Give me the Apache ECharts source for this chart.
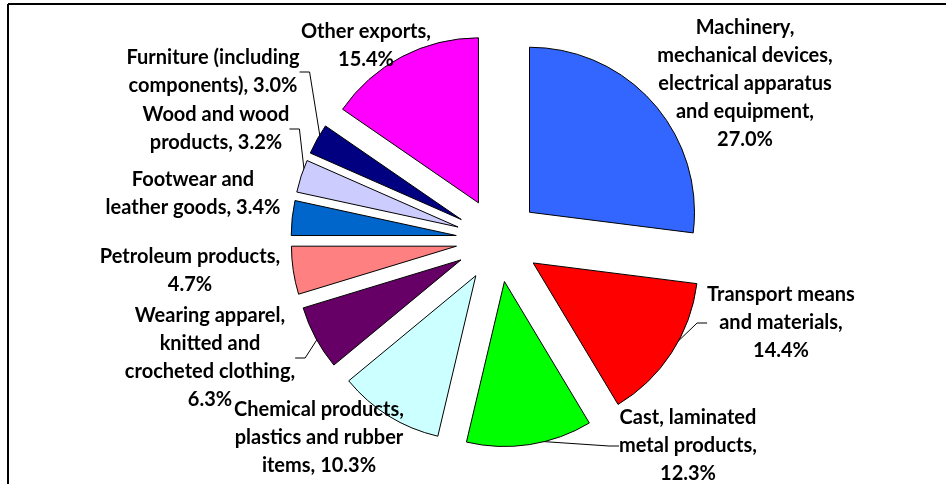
<!DOCTYPE html>
<html><head><meta charset="utf-8">
<script src="https://cdn.jsdelivr.net/npm/echarts@6/dist/echarts.min.js"></script>
<style>html,body{margin:0;padding:0;background:#fff}#c{width:946px;height:484px}</style>
</head><body><div id="c"></div>
<script>
// ---- data ----
const categories = [
  'Machinery,\nmechanical devices,\nelectrical apparatus\nand equipment',
  'Transport means\nand materials',
  'Cast, laminated\nmetal products',
  'Chemical products,\nplastics and rubber\nitems',
  'Wearing apparel,\nknitted and\ncrocheted clothing',
  'Petroleum products',
  'Footwear and\nleather goods',
  'Wood and wood\nproducts',
  'Furniture (including\ncomponents)',
  'Other exports'
];
const values = [27.0, 14.4, 12.3, 10.3, 6.3, 4.7, 3.4, 3.2, 3.0, 15.4];
const labelSeparators = [',\n', ',\n', ',\n', ', ', ',\n', ',\n', ', ', ', ', ', ', ',\n'];

// ---- styles / layout ----
const colors = ['#3366FF', '#FF0000', '#00FF00', '#CCFFFF', '#660066', '#FF8080', '#0066CC', '#CCCCFF', '#000080', '#FF00FF'];
const showLeader = [false, true, true, false, true, false, false, true, true, false];
const labelSpots = [[745, 84], [781, 323], [688, 446], [319, 438], [210, 358], [190, 271], [193, 194], [216, 129], [213, 72], [366, 46]];
const CENTER = [498, 240];

const chart = echarts.init(document.getElementById('c'), null, {renderer: 'canvas'});

const sliceData = categories.map((n, i) => ({
  name: n, value: values[i], selected: true, itemStyle: {color: colors[i]}
}));
const labelData = categories.map((n, i) => ({
  name: n, value: values[i], labelLine: {show: showLeader[i]}
}));

chart.setOption({
  animation: false,
  backgroundColor: '#ffffff',
  graphic: [
    {type: 'line', shape: {x1: 8, y1: 4, x2: 946, y2: 4}, style: {stroke: '#000', lineWidth: 2}, silent: true},
    {type: 'line', shape: {x1: 8, y1: 4, x2: 8, y2: 484}, style: {stroke: '#000', lineWidth: 2}, silent: true}
  ],
  series: [{
    type: 'pie',
    center: CENTER,
    radius: [0, 165],
    startAngle: 90,
    clockwise: true,
    selectedMode: 'multiple',
    selectedOffset: 42,
    silent: true,
    data: sliceData,
    itemStyle: {borderColor: '#000', borderWidth: 1},
    select: {itemStyle: {borderColor: '#000', borderWidth: 1}},
    emphasis: {disabled: true},
    label: {show: false},
    labelLine: {show: false}
  }, {
    type: 'pie',
    center: CENTER,
    radius: [0, 203],
    startAngle: 90,
    clockwise: true,
    silent: true,
    selectedMode: false,
    avoidLabelOverlap: false,
    data: labelData,
    itemStyle: {color: 'rgba(0,0,0,0)', borderWidth: 0},
    emphasis: {disabled: true},
    label: {
      show: true,
      position: 'outside',
      color: '#000',
      fontFamily: 'Lato',
      fontWeight: 'bold',
      fontSize: 20,
      lineHeight: 28,
      align: 'center',
      formatter: p => p.name + labelSeparators[p.dataIndex] + values[p.dataIndex].toFixed(1) + '%'
    },
    labelLine: {show: true, lineStyle: {color: '#000', width: 1}, length: 10, length2: 10},
    labelLayout: p => ({
      x: labelSpots[p.dataIndex][0],
      y: labelSpots[p.dataIndex][1],
      align: 'center',
      verticalAlign: 'middle'
    })
  }]
});
</script>
</body></html>
